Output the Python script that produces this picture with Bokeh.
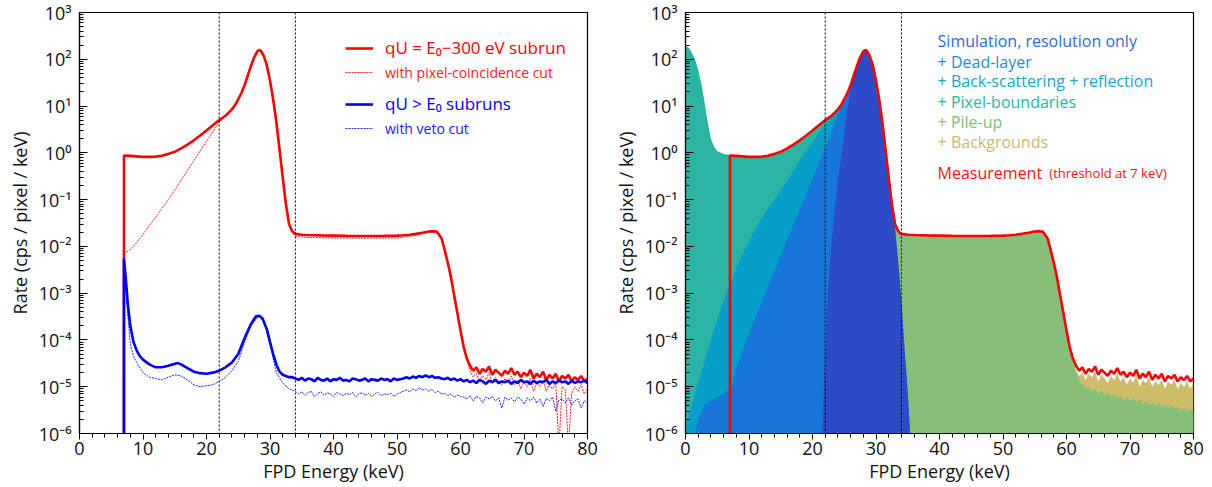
import numpy as np
from bokeh.plotting import figure
from bokeh.layouts import row
from bokeh.models import (Range1d, FixedTicker, CustomJSTickFormatter, Span,
                          Legend, LegendItem, Label)
from bokeh.embed import file_html
from bokeh.resources import INLINE

FONT = "Open Sans"

# ------------------------------------------------------------------ data
# measured spectrum, qU = E0-300 eV subrun (also "Measurement" in right panel)
# first point: no counts below the 7 keV threshold
energy_meas = [7, 7, 8, 9, 10, 11, 12, 13, 14, 15, 16, 17, 18, 19, 20, 21, 22, 23, 24,
               24.5, 25, 25.5, 26, 26.5, 27, 27.5, 28, 28.3, 28.6, 29, 29.5, 30, 30.5,
               31, 31.5, 32, 32.5, 33, 33.5, 34,
               35, 36, 38, 40, 42, 44, 46, 48, 50,
               51, 52, 53, 54, 55, 55.7, 56.3,
               57, 57.5, 58, 58.5, 59, 59.5, 60, 60.5, 61]
rate_meas = [1e-9, 0.88, 0.86, 0.84, 0.82, 0.82, 0.83, 0.87, 0.95, 1.05, 1.25, 1.5, 1.85, 2.35,
             3.0, 3.9, 5.0, 6.2, 8.5,
             10.5, 14, 19, 28, 45, 72, 110, 148, 158, 150, 120, 75, 35, 14,
             4.5, 1.2, 0.3, 0.08, 0.03, 0.021, 0.0185,
             0.0178, 0.0175, 0.0172, 0.017, 0.0168, 0.0167, 0.0167, 0.0168, 0.017,
             0.0173, 0.0178, 0.0186, 0.0196, 0.0208, 0.0212, 0.0205,
             0.015, 0.0085, 0.0045, 0.0022, 9e-4, 3.8e-4, 1.6e-4, 7e-5, 4e-5]
# noisy tails, 0.5 keV bins starting at 61.5 keV, in units of 1e-5 cps/pixel/keV
tail_start_kev = 61.5
meas_tail_e5 = [2.8, 2.2, 2.6, 1.9, 2.4, 2.1, 2.7, 1.8, 2.3, 2.0, 1.7, 2.2, 1.9, 2.5, 1.8,
                2.1, 1.6, 2.0, 1.7, 2.3, 1.5, 1.9, 1.6, 2.1, 1.4, 1.8, 1.5, 1.9, 1.3, 1.7,
                1.5, 1.8, 1.3, 1.6, 1.4, 1.7, 1.3, 1.5]

# with pixel-coincidence cut
energy_pc = [7, 8, 9, 10, 11, 12, 13, 14, 15, 16, 17, 18, 19, 20, 21, 22, 23, 24,
             25, 26, 27, 28, 28.3, 29, 30, 31, 32, 33, 34,
             36, 40, 45, 50, 53, 55, 55.7, 56.3, 57, 58, 59, 60, 61]
rate_pc = [0.007, 0.0085, 0.012, 0.018, 0.028, 0.042, 0.065, 0.1, 0.16, 0.26, 0.42, 0.68,
           1.1, 1.75, 2.8, 4.5, 6.0, 8.3,
           13.5, 27, 70, 146, 156, 118, 34, 4.3, 0.29, 0.028, 0.0162,
           0.0155, 0.0152, 0.015, 0.0152, 0.0172, 0.0198, 0.0205, 0.0198, 0.0145, 0.0043,
           8.5e-4, 1.5e-4, 3.6e-5]
pc_tail_e5 = [2.2, 1.6, 1.9, 1.3, 1.7, 1.4, 2.0, 1.2, 1.6, 1.3, 1.1, 1.5, 1.2, 1.7, 1.1,
              1.4, 0.9, 1.3, 1.0, 1.5, 0.8, 1.2, 1.0, 1.4, 0.8, 1.1, 0.9, 1.2, 0.05, 1.0,
              0.9, 0.05, 0.7, 1.0, 0.8, 1.1, 0.7, 0.9]

# qU > E0 subruns
energy_hi = [7, 7, 7.3, 7.6, 8, 8.5, 9, 9.5, 10, 11, 12, 13, 14, 15, 15.5, 16, 17, 18, 19, 20,
             21, 22, 23, 24, 25, 26, 27, 27.8, 28.3, 28.8, 29.5, 30, 30.5, 31, 31.5, 32, 33]
rate_hi = [1e-9, 5.5e-3, 2e-3, 6e-4, 2e-4, 9e-5, 6e-5, 4.5e-5, 3.8e-5, 3e-5, 2.6e-5, 2.6e-5,
           2.8e-5, 3.1e-5, 3.2e-5, 3e-5, 2.5e-5, 2.1e-5, 1.95e-5, 1.9e-5,
           2.0e-5, 2.2e-5, 2.6e-5, 3.3e-5, 5e-5, 1.1e-4, 2.2e-4, 3.2e-4, 3.3e-4, 2.9e-4,
           1.7e-4, 9e-5, 5e-5, 3e-5, 2.1e-5, 1.8e-5, 1.6e-5]
# 0.5 keV bins starting at 33.5 keV, units of 1e-5
hi_noise_start_kev = 33.5
hi_noise_e5 = [1.6, 1.5, 1.4, 1.55, 1.35, 1.5, 1.45, 1.3, 1.55, 1.4, 1.35, 1.5, 1.3, 1.45, 1.4,
               1.55, 1.35, 1.4, 1.3, 1.5, 1.45, 1.35, 1.4, 1.5, 1.3, 1.45, 1.4, 1.35, 1.5, 1.4,
               1.45, 1.3, 1.5, 1.4,
               1.45, 1.5, 1.6, 1.5, 1.65, 1.55, 1.7, 1.6, 1.75, 1.6, 1.7, 1.55, 1.6, 1.5, 1.45,
               1.55, 1.4, 1.5, 1.35, 1.45,
               1.3, 1.4, 1.25, 1.35, 1.2, 1.4, 1.3, 1.15, 1.35, 1.25, 1.4, 1.2, 1.3, 1.25, 1.35,
               1.15, 1.3, 1.2, 1.4, 1.25, 1.3, 1.15, 1.35, 1.2, 1.3, 1.25, 1.4, 1.15, 1.3, 1.2,
               1.35, 1.25, 1.3, 1.15, 1.35, 1.2, 1.3, 1.25, 1.35, 1.2]

# with veto cut
energy_veto = [7, 7.3, 7.6, 8, 8.5, 9, 10, 11, 12, 13, 14, 15, 16, 17, 18, 19, 20, 21, 22, 23,
               24, 25, 26, 27, 28, 28.3, 29, 29.5, 30, 30.5, 31, 32, 33]
rate_veto = [5e-3, 1.5e-3, 3.5e-4, 8e-5, 4.5e-5, 3.3e-5, 2e-5, 1.6e-5, 1.5e-5, 1.4e-5, 1.6e-5,
             1.8e-5, 1.7e-5, 1.4e-5, 1.1e-5, 1.0e-5, 1.05e-5, 1.1e-5, 1.3e-5, 1.6e-5, 2.2e-5,
             3.5e-5, 9e-5, 2e-4, 3e-4, 3.1e-4, 2.5e-4, 1.5e-4, 8e-5, 4e-5, 2e-5, 1.2e-5, 9e-6]
veto_noise_e5 = [0.85, 0.8, 0.7, 0.78, 0.65, 0.75, 0.8, 0.6, 0.72, 0.78, 0.66, 0.74, 0.7, 0.62,
                 0.76, 0.7, 0.64, 0.72, 0.68, 0.75, 0.6, 0.7, 0.74, 0.66, 0.72, 0.62, 0.7, 0.76,
                 0.64, 0.7, 0.68, 0.73, 0.62, 0.7,
                 0.75, 0.8, 0.85, 0.78, 0.9, 0.82, 0.95, 0.85, 0.9, 0.8, 0.88, 0.75, 0.8, 0.7,
                 0.72, 0.65, 0.7, 0.6, 0.66, 0.62,
                 0.6, 0.55, 0.65, 0.5, 0.62, 0.58, 0.45, 0.6, 0.55, 0.62, 0.5, 0.58, 0.35, 0.6,
                 0.52, 0.57, 0.48, 0.6, 0.55, 0.42, 0.58, 0.5, 0.6, 0.45, 0.55, 0.38, 0.56, 0.5,
                 0.6, 0.3, 0.52, 0.55, 0.45, 0.58, 0.4, 0.5, 0.55, 0.35, 0.5, 0.45]

# simulation components (cumulative)
energy_res = [21.5, 21.8, 22.2, 22.6, 23, 23.5, 24, 24.5, 25, 25.5, 26, 26.5, 27, 27.5, 28,
              28.3, 28.6, 29, 29.5, 30, 30.5, 31, 31.5, 32, 32.5, 33, 33.5, 34, 34.5, 35, 35.4]
rate_res = [1e-6, 1e-5, 2.7e-4, 2.5e-3, 0.012, 0.06, 0.25, 0.8, 2.4, 9, 22, 45, 72, 110, 148,
            158, 150, 120, 75, 35, 14, 4.5, 1.2, 0.3, 0.08, 0.025, 5e-3, 7e-4, 7e-5, 8e-6, 1e-6]

energy_dead = [1.5, 2, 3, 4, 5, 6, 7, 7.5, 8, 9, 10, 11, 12, 13, 14, 15, 16, 17, 18, 19, 20,
               21, 22, 23, 24, 25, 25.5]
rate_dead = [1e-6, 2e-6, 4e-6, 5e-6, 6e-6, 7e-6, 9e-6, 1.3e-5, 2.5e-5, 6e-5, 1.4e-4, 3e-4,
             6.5e-4, 1.4e-3, 3e-3, 6.5e-3, 0.014, 0.03, 0.06, 0.13, 0.28, 0.6, 1.3, 2.8, 6.5,
             14, 19]

energy_bs = [0, 0.5, 1, 1.5, 2, 2.5, 3, 4, 5, 6, 7, 8, 9, 10, 11, 12, 13, 14, 15, 16, 17, 18,
             19, 20, 21, 22, 23, 24]
rate_bs = [1.5e-6, 2.5e-6, 4e-6, 7e-6, 1.2e-5, 2e-5, 3.5e-5, 1e-4, 2.8e-4, 7e-4, 1.6e-3,
           3.5e-3, 7e-3, 0.013, 0.024, 0.04, 0.065, 0.1, 0.16, 0.26, 0.42, 0.7, 1.1, 1.7,
           2.7, 4.0, 6.0, 8.3]

energy_pix = [0, 0.3, 0.6, 1, 1.5, 2, 2.5, 3, 3.5, 4, 4.5, 5, 6, 7]
rate_pix = [185, 182, 170, 140, 100, 60, 30, 12, 4.5, 2.0, 1.35, 1.1, 0.95, 0.9]

pileup_tail_e5 = [2.0, 1.3, 1.1, 0.9, 1.0, 0.8, 0.9, 0.7, 0.85, 0.65, 0.75, 0.6, 0.7, 0.55,
                  0.65, 0.5, 0.6, 0.48, 0.58, 0.45, 0.55, 0.42, 0.5, 0.4, 0.48, 0.38, 0.45,
                  0.36, 0.42, 0.35, 0.4, 0.33, 0.38, 0.3, 0.36, 0.28, 0.34, 0.3]
bkg_tail_e5 = [2.2, 1.7, 2.0, 1.4, 1.9, 1.6, 2.1, 1.3, 1.8, 1.5, 1.2, 1.7, 1.4, 1.9, 1.3, 1.6,
               1.1, 1.5, 1.2, 1.8, 1.0, 1.4, 1.2, 1.6, 1.0, 1.3, 1.1, 1.4, 0.9, 1.3, 1.1, 1.4,
               0.9, 1.2, 1.0, 1.3, 0.9, 1.2]

roi_bounds_kev = [22, 34]
x_ticks = [0, 10, 20, 30, 40, 50, 60, 70, 80]

# ------------------------------------------------------------------ assemble
def bins(start, vals):
    return list(start + 0.5 * np.arange(len(vals)))

def e5(vals):
    return [v * 1e-5 for v in vals]

em = np.array(energy_meas, dtype=float)
rm = np.array(rate_meas, dtype=float)

meas_x = list(em) + bins(tail_start_kev, meas_tail_e5)
meas_y = list(rm) + e5(meas_tail_e5)
pc_x = energy_pc + bins(tail_start_kev, pc_tail_e5)
pc_y = rate_pc + e5(pc_tail_e5)
hi_x = energy_hi + bins(hi_noise_start_kev, hi_noise_e5)
hi_y = rate_hi + e5(hi_noise_e5)
veto_x = energy_veto + bins(hi_noise_start_kev, veto_noise_e5)
veto_y = rate_veto + e5(veto_noise_e5)

def meas_between(lo, hi):
    m = (em > lo) & (em <= hi) & (rm > 1e-8)
    return list(em[m]), list(rm[m])

mx, my = meas_between(25.5, 33)
dead_x, dead_y = energy_dead + mx, rate_dead + my
mx, my = meas_between(24, 33)
bs_x, bs_y = energy_bs + mx, rate_bs + my
mx, my = meas_between(7, 33)
pix_x, pix_y = energy_pix + mx, rate_pix + my
mx, my = meas_between(32.9, 61)
pu_x = mx + bins(tail_start_kev, pileup_tail_e5)
pu_y = my + e5(pileup_tail_e5)
bkg_x = mx + bins(tail_start_kev, bkg_tail_e5)
bkg_y = my + e5(bkg_tail_e5)

FLOOR = 1e-7

# ------------------------------------------------------------------ figures
sup_fmt = CustomJSTickFormatter(code=r"""
const s = {"0":"\u2070","1":"\u00b9","2":"\u00b2","3":"\u00b3","4":"\u2074","5":"\u2075",
           "6":"\u2076","7":"\u2077","8":"\u2078","9":"\u2079","-":"\u207b"};
const e = Math.round(Math.log10(tick));
return "10" + String(e).split("").map(c => s[c]).join("");
""")

y_major = [10.0 ** e for e in range(-6, 4)]
y_minor = [m * 10.0 ** e for e in range(-6, 3) for m in range(2, 10)]


def make_fig(border_right):
    p = figure(x_range=Range1d(0, 80), y_range=Range1d(1e-6, 1e3), y_axis_type="log",
               frame_width=508, frame_height=421,
               min_border_left=79, min_border_right=border_right,
               min_border_top=12, min_border_bottom=46,
               output_backend="svg", toolbar_location=None)
    p.xgrid.visible = False
    p.ygrid.visible = False
    p.outline_line_color = "black"
    p.outline_line_width = 1.2
    p.background_fill_color = "white"
    p.border_fill_color = "white"
    p.xaxis.ticker = FixedTicker(ticks=x_ticks, minor_ticks=list(range(0, 81, 2)))
    p.yaxis.ticker = FixedTicker(ticks=y_major, minor_ticks=y_minor)
    p.yaxis.formatter = sup_fmt
    for ax in (p.xaxis, p.yaxis):
        ax.axis_line_color = "black"
        ax.axis_line_width = 1.2
        ax.major_tick_line_color = "black"
        ax.minor_tick_line_color = "black"
        ax.major_label_text_font = FONT
        ax.major_label_text_font_size = "18px"
        ax.major_label_text_color = "#111111"
        ax.axis_label_text_font = FONT
        ax.axis_label_text_font_size = "18px"
        ax.axis_label_text_font_style = "normal"
        ax.axis_label_text_color = "#111111"
    p.xaxis.major_tick_in = 0
    p.xaxis.major_tick_out = 6
    p.xaxis.minor_tick_in = 0
    p.xaxis.minor_tick_out = 4
    p.xaxis.major_label_standoff = 2
    p.xaxis.axis_label_standoff = 1
    p.yaxis.major_tick_in = 8
    p.yaxis.major_tick_out = 0
    p.yaxis.minor_tick_in = 4
    p.yaxis.minor_tick_out = 0
    p.yaxis.major_label_standoff = 8
    p.yaxis.axis_label_standoff = 4
    p.xaxis.axis_label = "FPD Energy (keV)"
    p.yaxis.axis_label = "Rate (cps / pixel / keV)"
    for b in roi_bounds_kev:
        p.add_layout(Span(location=b, dimension="height", line_color="black",
                          line_width=1, line_dash="2 2"))
    return p


# ---------------- left panel
p1 = make_fig(19)
r_pc = p1.line(pc_x, pc_y, line_color="#ff2020", line_width=1, line_dash="2 1")
r_meas = p1.line(meas_x, meas_y, line_color="#ff0000", line_width=2.6)
r_veto = p1.line(veto_x, veto_y, line_color="#2020ff", line_width=1, line_dash="2 1")
r_hi = p1.line(hi_x, hi_y, line_color="#0000ff", line_width=2.6)


def legend_row(p, r, text, color, size, x, y):
    lg = Legend(items=[LegendItem(label=text, renderers=[r])], location=(x, y),
                padding=0, margin=0, spacing=0, glyph_width=28, glyph_height=20,
                label_height=20, label_standoff=12, label_text_color=color,
                label_text_font=FONT, label_text_font_size=size,
                background_fill_alpha=0, border_line_alpha=0)
    p.add_layout(lg)


legend_row(p1, r_meas, "qU = E\u2080\u2212300 eV subrun", "#ff0000", "17px", 266, 374)
legend_row(p1, r_pc, "with pixel-coincidence cut", "#ff2020", "14px", 266, 351)
legend_row(p1, r_hi, "qU > E\u2080 subruns", "#0000ff", "17px", 266, 318)
legend_row(p1, r_veto, "with veto cut", "#2020ff", "14px", 266, 295)

# ---------------- right panel
p2 = make_fig(11)
p2.varea(x=bkg_x, y1=FLOOR, y2=bkg_y, fill_color="#cdbd6b")
p2.varea(x=pu_x, y1=FLOOR, y2=pu_y, fill_color="#86bf79")
p2.varea(x=pix_x, y1=FLOOR, y2=pix_y, fill_color="#2bb4a3")
p2.varea(x=bs_x, y1=FLOOR, y2=bs_y, fill_color="#069fc9")
p2.varea(x=dead_x, y1=FLOOR, y2=dead_y, fill_color="#1677d9")
p2.varea(x=energy_res, y1=FLOOR, y2=rate_res, fill_color="#2c4bc6")
p2.line(meas_x, meas_y, line_color="#ff0000", line_width=2.6)


def ypix(dy):
    # convert a pixel offset from the frame top into a data value (9 decades in 421 px)
    return 10 ** (3 - 9 * dy / 421)


legend_texts = [("Simulation, resolution only", "#1f6ddc", 28),
                ("+ Dead-layer", "#2a8ad8", 49),
                ("+ Back-scattering + reflection", "#1aa5d0", 68),
                ("+ Pixel-boundaries", "#2bb5a4", 89),
                ("+ Pile-up", "#7fbe7a", 109),
                ("+ Backgrounds", "#c8ba6c", 129)]
for txt, col, dy in legend_texts:
    p2.add_layout(Label(x=39.7, y=ypix(dy), text=txt, text_color=col, text_font=FONT,
                        text_font_size="16px", text_baseline="middle"))
p2.add_layout(Label(x=39.7, y=ypix(160), text="Measurement", text_color="#ff1010",
                    text_font=FONT, text_font_size="16px", text_baseline="middle"))
p2.add_layout(Label(x=57.3, y=ypix(160), text="(threshold at 7 keV)", text_color="#ff1010",
                    text_font=FONT, text_font_size="13px", text_baseline="middle"))

layout = row(p1, p2)
open("out.html", "w").write(file_html(layout, INLINE))
